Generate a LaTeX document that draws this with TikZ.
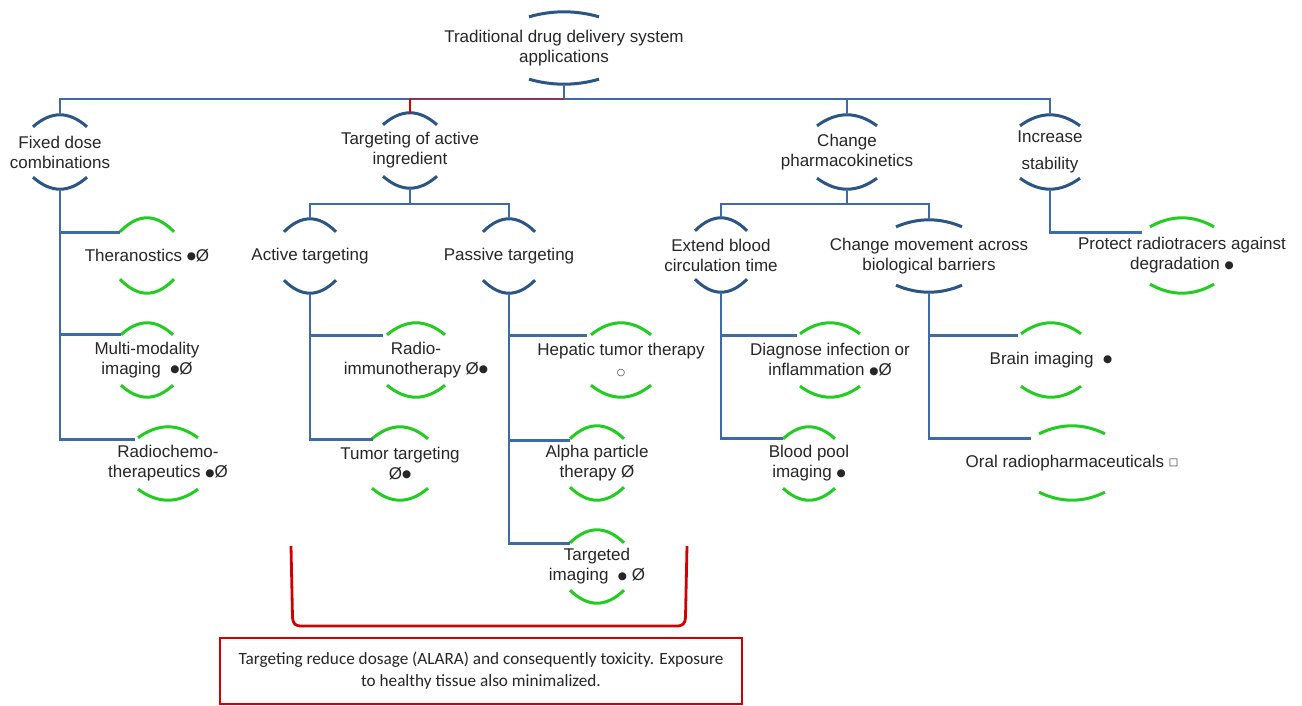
\documentclass[tikz,border=0pt]{standalone}
\usepackage{fontspec}
\setmainfont{Liberation Sans}
\newfontfamily\symf{DejaVu Sans}
\newfontfamily\notef{Carlito}
\usetikzlibrary{calc}
\definecolor{connblue}{HTML}{3E6BA6}
\definecolor{arcblue}{HTML}{2A5585}
\definecolor{arcgreen}{HTML}{22CC22}
\definecolor{redc}{HTML}{D20000}
\definecolor{txtc}{HTML}{262626}
\newcommand\bdot{\raisebox{1.8pt}{\symf\fontsize{10.5}{20}\selectfont ●}}
\newcommand\wcirc{{\symf\fontsize{9.5}{20}\selectfont ○}}
\newcommand\wsq{\raisebox{1.5pt}{\symf\fontsize{10}{20}\selectfont □}}
\begin{document}
\begin{tikzpicture}[x=1pt,y=-1pt,
  lbl/.style={inner sep=0pt, align=center, text=txtc, font=\fontsize{17}{20}\selectfont},
  conn/.style={connblue, line width=2.8pt},
  arcl/.style={line width=3pt},
  redline/.style={redc, line width=2.8pt}
]
\useasboundingbox[fill=white] (0,0) rectangle (1302,705);

% level 0
\node[lbl, minimum height=72] (root) at (564,48) {Traditional drug delivery system\\applications};
% level 1
\node[lbl, minimum height=74] (fixed) at (60,152) {Fixed dose\\combinations};
\node[lbl, minimum height=75] (tgt) at (410,150.5) {Targeting of active\\ingredient};
\node[lbl, minimum height=74] (change) at (847,152) {Change\\pharmacokinetics};
\node[lbl, minimum height=74] (inc) at (1050,152) {Increase\\[7pt]stability};
% level 2
\node[lbl, minimum height=74] (act) at (310,256) {Active targeting};
\node[lbl, minimum height=74] (pas) at (509,256) {Passive targeting};
\node[lbl, minimum height=74] (ext) at (721,255) {Extend blood\\circulation time};
\node[lbl, minimum height=72] (mov) at (929,256) {Change movement across\\biological barriers};
% leaves
\node[lbl, minimum height=75] (ther) at (147,255.5) {Theranostics \bdot Ø};
\node[lbl, minimum height=74] (multi) at (147,360) {Multi-modality\\imaging~~\bdot Ø};
\node[lbl, minimum height=73] (radch) at (168,463.5) {Radiochemo-\\therapeutics \bdot Ø};
\node[lbl, minimum height=74] (rit) at (416,360) {Radio-\\immunotherapy Ø\bdot};
\node[lbl, minimum height=73] (tum) at (400,463.5) {Tumor targeting\\Ø\bdot};
\node[lbl, minimum height=74] (hep) at (621,360) {Hepatic tumor therapy\\\wcirc};
\node[lbl, minimum height=74] (alpha) at (597,463) {Alpha particle\\therapy Ø};
\node[lbl, minimum height=73] (timg) at (597,566.5) {Targeted\\imaging~~\bdot{} Ø};
\node[lbl, minimum height=74] (diag) at (830,360) {Diagnose infection or\\inflammation \bdot Ø};
\node[lbl, minimum height=73] (bpool) at (809,463.5) {Blood pool\\imaging \bdot};
\node[lbl, minimum height=74] (brain) at (1051,360) {Brain imaging~~\bdot};
\node[lbl, minimum height=74] (oral) at (1072,463) {Oral radiopharmaceuticals \wsq};
\node[lbl, minimum height=75] (prot) at (1182,255.5) {Protect radiotracers against\\degradation \bdot};

% note box
\node[draw=redc, line width=2.8pt, minimum width=522, minimum height=66, inner sep=0pt,
      align=center, text=txtc, font=\notef\fontsize{17.2}{22}\selectfont] (note) at (481,671)
  {Targeting reduce dosage (ALARA) and consequently toxicity. Exposure\\to healthy tissue also minimalized.};

% arcs
\foreach \n/\w/\s/\c in {root/35/5/arcblue, fixed/27/12/arcblue, tgt/27/12/arcblue,
    change/30/11/arcblue, inc/30/11/arcblue, act/26/13/arcblue, pas/26/13/arcblue,
    ext/26/13/arcblue, mov/33/7/arcblue,
    ther/27/14/arcgreen, multi/26/12/arcgreen, radch/30/11/arcgreen, rit/29/12/arcgreen,
    tum/28/12/arcgreen, hep/30/12/arcgreen, alpha/27/13/arcgreen, timg/27/13/arcgreen,
    diag/30/11/arcgreen, bpool/26/12/arcgreen, brain/30/11/arcgreen, oral/33/8/arcgreen,
    prot/32/9/arcgreen} {
  \draw[\c, arcl] ($(\n.north)+(-\w,\s)$) .. controls ($(\n.north)+(-\w/3,-\s/3)$) and ($(\n.north)+(\w/3,-\s/3)$) .. ($(\n.north)+(\w,\s)$);
  \draw[\c, arcl] ($(\n.south)+(-\w,-\s)$) .. controls ($(\n.south)+(-\w/3,\s/3)$) and ($(\n.south)+(\w/3,\s/3)$) .. ($(\n.south)+(\w,-\s)$);
}

% buses
\coordinate (bus) at (564,99);
\coordinate (tbus) at (410,204);
\coordinate (cbus) at (847,204);
\draw[conn] (root.south) -- (bus);
\draw[conn] (fixed.north) |- (bus) -| (inc.north);
\draw[conn] (change.north) |- (bus);
\draw[conn] (tgt.north) |- (bus);
\draw[redc, line width=2.8pt] (tgt.north) -- ($(tgt.north)+(0,-14)$);
\draw[redc, line width=1pt] ($(tgt.north)+(0,-14)$) -- (bus);

\draw[conn] (tgt.south) -- (tbus);
\draw[conn] (act.north) |- (tbus) -| (pas.north);
\draw[conn] (change.south) -- (cbus);
\draw[conn] (ext.north) |- (cbus) -| (mov.north);

% branches to leaves
\draw[conn] (fixed.south) |- ($(ther.north)+(-27,15)$);
\draw[conn] (fixed.south) |- ($(multi.north)+(-26,12)$);
\draw[conn] (fixed.south) |- ($(radch.north)+(-33,13)$);
\draw[conn] (act.south) |- ($(rit.north)+(-33,13)$);
\draw[conn] (act.south) |- ($(tum.north)+(-27,13)$);
\draw[conn] (pas.south) |- ($(hep.north)+(-34,13)$);
\draw[conn] (pas.south) |- ($(alpha.north)+(-27,15)$);
\draw[conn] (pas.south) |- ($(timg.north)+(-27,14)$);
\draw[conn] (ext.south) |- ($(diag.north)+(-33,13)$);
\draw[conn] (ext.south) |- ($(bpool.north)+(-26,12)$);
\draw[conn] (mov.south) |- ($(brain.north)+(-33,13)$);
\draw[conn] (mov.south) |- ($(oral.north)+(-41,13)$);
\draw[conn] (inc.south) |- ($(prot.north)+(-40,15)$);

% red bracket
\draw[redline] (291,546) -- (292.5,617) .. controls (293,624) and (295,626) .. (302,626)
  -- (676,626) .. controls (683,626) and (685,624) .. (685.5,617) -- (687,546);
\end{tikzpicture}
\end{document}
